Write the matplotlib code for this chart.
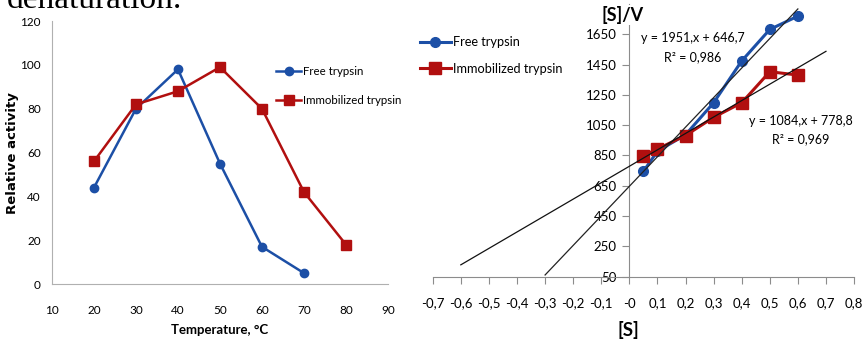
import matplotlib
matplotlib.use("Agg")
import matplotlib.pyplot as plt
import numpy as np

plt.rcParams['font.family'] = ['Lato', 'DejaVu Sans']

# temperature profile
temp = [20, 30, 40, 50, 60, 70, 80]
free_act = [44, 80, 98, 55, 17, 5]
immob_act = [56, 82, 88, 99, 80, 42, 18]

# Hanes-Woolf plot
s_conc = [0.05, 0.1, 0.2, 0.3, 0.4, 0.5, 0.6]
free_sv = [745, 878, 987, 1198, 1474, 1682, 1770]
immob_sv = [847, 893, 982, 1102, 1198, 1403, 1381]
free_fit = (1951, 646.7, 0.986)
immob_fit = (1084, 778.8, 0.969)
free_fit_x = [-0.3, 0.6]
immob_fit_x = [-0.6, 0.7]


def comma(v):
    return ('%g' % v).replace('.', ',')


blue = '#1c4fa6'
red = '#b10f0f'
grey = '#8c8c8c'

fig = plt.figure(figsize=(8.66, 3.41), dpi=100)

fig.text(0.008, 1 - 7.5 / 341, 'denaturation.', family='Liberation Serif', fontsize=24,
         va='baseline', ha='left')

# ---- left panel
ax1 = fig.add_axes([0.060, 0.167, 0.388, 0.771])
l1, = ax1.plot(temp[:len(free_act)], free_act, color=blue, lw=1.8, marker='o', ms=6)
l2, = ax1.plot(temp, immob_act, color=red, lw=1.8, marker='s', ms=7.5)
ax1.set_xlim(10, 90)
ax1.set_ylim(0, 120)
ax1.set_xticks(range(10, 91, 10))
ax1.set_yticks(range(0, 121, 20))
for s in ['top', 'right']:
    ax1.spines[s].set_visible(False)
for s in ['left', 'bottom']:
    ax1.spines[s].set_color('#b0b0b0')
ax1.tick_params(axis='both', length=0, labelsize=8.5)
ax1.tick_params(axis='x', pad=15)
ax1.tick_params(axis='y', pad=8)
ax1.set_xlabel('Temperature, \u00b0C', fontsize=9.5, fontweight='bold')
ax1.xaxis.set_label_coords(0.5, -40 / 263)
ax1.set_ylabel('Relative activity', fontsize=9.5, fontweight='bold',
               family='DejaVu Sans')
ax1.yaxis.set_label_coords(-33 / 336, 0.5)
ax1.legend([l1, l2], ['Free trypsin', 'Immobilized trypsin'], loc='upper left',
           bbox_to_anchor=(276 / 866, 1 - 66 / 341), bbox_transform=fig.transFigure,
           frameon=False, fontsize=8.3, handlelength=2.2, handletextpad=0.1,
           labelspacing=1.55, borderpad=0, borderaxespad=0)

# ---- right panel
ax2 = fig.add_axes([0.4997, 1 - 276.7 / 341, 0.4865, (276.7 - 4) / 341])
ax2.plot(s_conc, free_sv, color=blue, lw=2.2, marker='o', ms=7, zorder=3)
ax2.plot(s_conc, immob_sv, color=red, lw=2.2, marker='s', ms=8.5, zorder=3)
fx = np.array(free_fit_x)
ix = np.array(immob_fit_x)
ax2.plot(fx, free_fit[0] * fx + free_fit[1], color='#222222', lw=0.9, zorder=4)
ax2.plot(ix, immob_fit[0] * ix + immob_fit[1], color='#111111', lw=0.9, zorder=4)

xt = np.round(np.arange(-0.7, 0.81, 0.1), 1)
ax2.set_xlim(-0.7, 0.8)
ax2.set_ylim(50, 1850)
ax2.set_xticks(xt)
ax2.set_xticklabels([comma(v) for v in xt])
ax2.set_yticks(range(50, 1651, 200))
for s in ['top', 'right']:
    ax2.spines[s].set_visible(False)
ax2.spines['left'].set_position(('data', 0))
for s in ['left', 'bottom']:
    ax2.spines[s].set_color(grey)
ax2.tick_params(axis='both', direction='out', length=5, color=grey,
                labelsize=9.5, width=0.8)
ax2.tick_params(axis='x', pad=10)
ax2.tick_params(axis='y', pad=4)

ax2.text(0.227, 1626, 'y = %d,x + %s' % (free_fit[0], comma(free_fit[1])),
         fontsize=9, ha='center', va='center')
ax2.text(0.227, 1500, 'R\u00b2 = %s' % comma(free_fit[2]),
         fontsize=9, ha='center', va='center')
ax2.text(0.611, 1080, 'y = %d,x + %s' % (immob_fit[0], comma(immob_fit[1])),
         fontsize=9, ha='center', va='center')
ax2.text(0.611, 959, 'R\u00b2 = %s' % comma(immob_fit[2]),
         fontsize=9, ha='center', va='center')

fig.text(623 / 866, 1 - 15 / 341, '[S]/V', fontsize=13, fontweight='bold',
         ha='center', va='center',
         bbox=dict(facecolor='white', edgecolor='none', pad=0.5), zorder=10)
fig.text(628 / 866, 1 - 330 / 341, '[S]', fontsize=13.5, fontweight='bold',
         ha='center', va='center')

h1, = ax2.plot([], [], color=blue, lw=2.2, marker='o', ms=7)
h2, = ax2.plot([], [], color=red, lw=2.2, marker='s', ms=8.5)
fig.legend([h1, h2], ['Free trypsin', 'Immobilized trypsin'], loc='upper left',
           bbox_to_anchor=(420 / 866, 1 - 36 / 341), frameon=False, fontsize=9.2,
           handlelength=2.4, handletextpad=0.15, labelspacing=1.15, borderpad=0,
           borderaxespad=0)

fig.savefig('out.png', dpi=100)
